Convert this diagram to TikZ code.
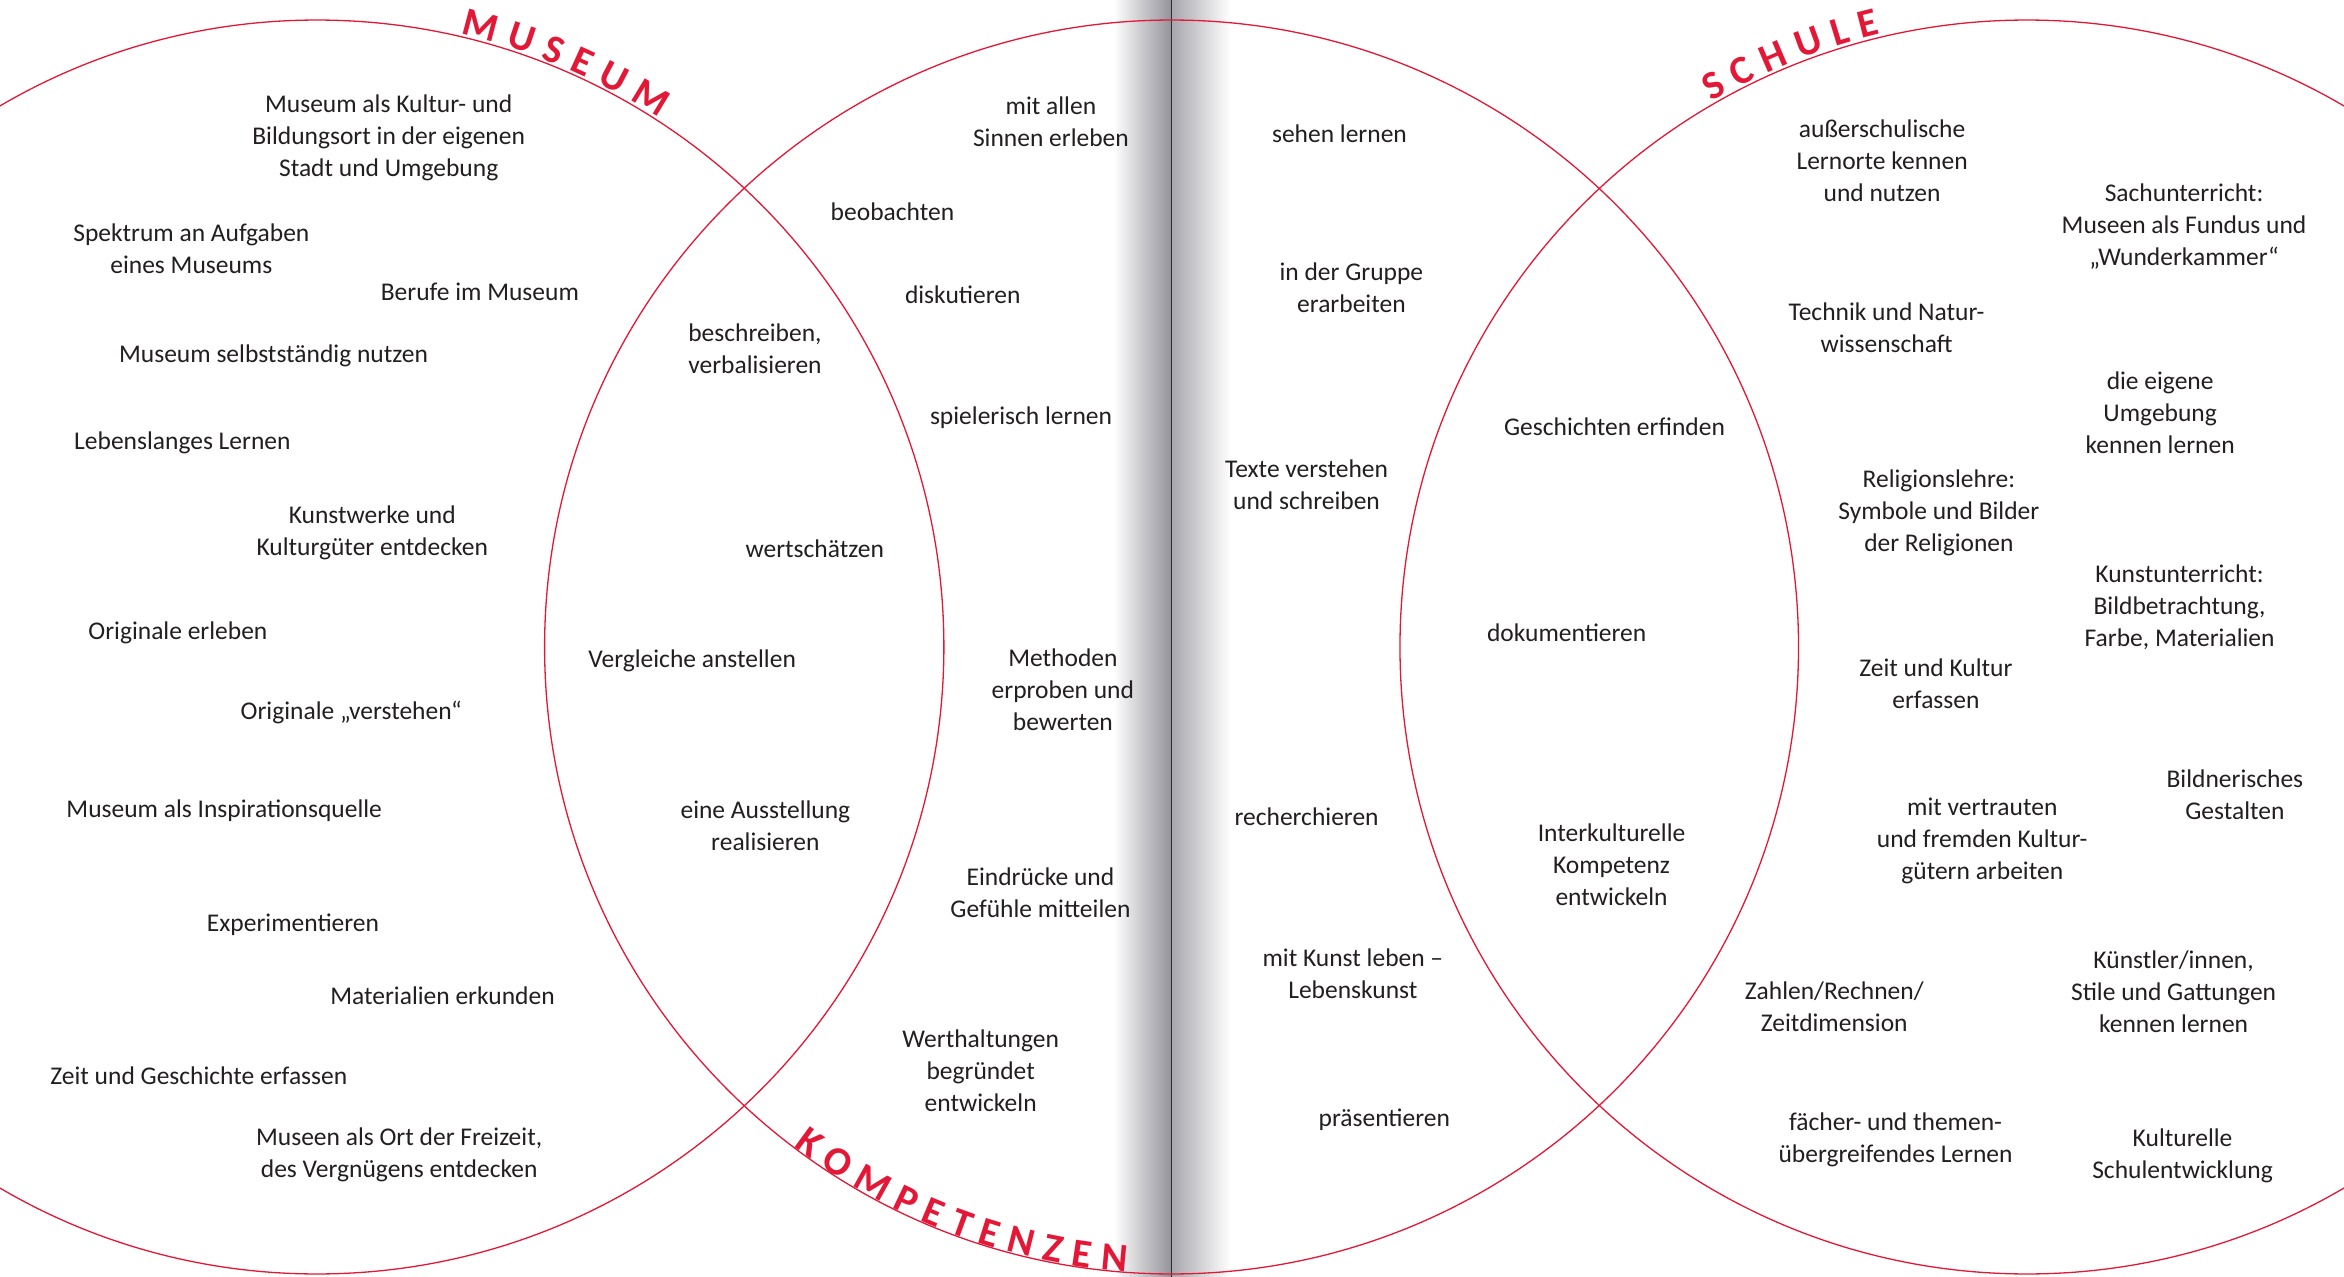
\documentclass[tikz,border=0pt]{standalone}
\usepackage{fontspec}
\setmainfont{Carlito}
\usetikzlibrary{calc}

\definecolor{accent}{RGB}{227,24,55}
\definecolor{ink}{RGB}{35,31,32}
\definecolor{gutL}{RGB}{146,146,153}
\definecolor{gutR}{RGB}{166,166,172}
\definecolor{foldline}{RGB}{45,45,50}

\tikzset{
  ring/.style={draw=accent, line width=1.3pt},
  lbl/.style={text=ink, font=\fontsize{25.5}{32}\selectfont, align=center, inner sep=0pt, yshift=-2pt},
  head/.style={text=accent, font=\fontsize{40}{40}\selectfont\bfseries, inner sep=0pt, anchor=base},
}

\begin{document}
\begin{tikzpicture}[x=1.4949pt, y=-1.4949pt]
\useasboundingbox (0,0) rectangle (1568,854);
\clip (0,0) rectangle (1568,854);
\fill[white] (0,0) rectangle (1568,854);

% gutter shadow of the spread
\shade[left color=white, right color=gutL] (745,0) rectangle (783.7,854);
\shade[left color=gutR, right color=white] (783.7,0) rectangle (823,854);
\draw[foldline, line width=1.6pt] (783.7,0) -- (783.7,854);

% circle centres
\coordinate (cL) at (212.0,432.8);
\coordinate (cM) at (783.7,432.8);
\coordinate (cR) at (1355.9,432.8);

\draw[ring] (cL) circle[radius=419.4];
\draw[ring] (cM) circle[radius=419.4];
\draw[ring] (cR) circle[radius=419.4];

% curved headings (angles measured counter-clockwise on the page)
\foreach \ch/\a in {M/75.2, U/71.4, S/68.3, E/65.6, U/62.5, M/58.7}
  \node[head, rotate={\a-90}] at ($(cL)+({-\a}:421.3)$) {\ch};
\foreach \ch/\a in {S/119.2, C/116.4, H/113.3, U/109.9, L/106.9, E/104.3}
  \node[head, rotate={\a-90}] at ($(cR)+({-\a}:421.5)$) {\ch};
\foreach \ch/\a in {K/233.9, O/237.1, M/240.9, P/244.4, E/247.2, T/250.0, E/252.7, N/255.8, Z/258.9, E/261.6, N/264.7}
  \node[head, rotate={\a+90}] at ($(cM)+({-\a}:419)$) {\ch};

% museum
\node[lbl] (t1) at (260,91) {Museum als Kultur- und\\Bildungsort in der eigenen\\Stadt und Umgebung};
\node[lbl] (t2) at (128,165) {Spektrum an Aufgaben\\eines Museums};
\node[lbl] (t3) at (321,194) {Berufe im Museum};
\node[lbl] (t4) at (183,237) {Museum selbstständig nutzen};
\node[lbl] (t5) at (122,295) {Lebenslanges Lernen};
\node[lbl] (t6) at (249,355) {Kunstwerke und\\Kulturgüter entdecken};
\node[lbl] (t7) at (119,422) {Originale erleben};
\node[lbl] (t8) at (235,475) {Originale „verstehen“};
\node[lbl] (t9) at (150,541) {Museum als Inspirationsquelle};
\node[lbl] (t10) at (196,617) {Experimentieren};
\node[lbl] (t11) at (296,665) {Materialien erkunden};
\node[lbl] (t12) at (133,718) {Zeit und Geschichte erfassen};
\node[lbl] (t13) at (267,771) {Museen als Ort der Freizeit,\\des Vergnügens entdecken};

% museum and competences
\node[lbl] (t14) at (505,232) {beschreiben,\\verbalisieren};
\node[lbl] (t15) at (545,366) {wertschätzen};
\node[lbl] (t16) at (463,441) {Vergleiche anstellen};
\node[lbl] (t17) at (512,551) {eine Ausstellung\\realisieren};

% competences, left page
\node[lbl] (t18) at (703,80) {mit allen\\Sinnen erleben};
\node[lbl] (t19) at (597,140) {beobachten};
\node[lbl] (t20) at (644,196) {diskutieren};
\node[lbl] (t21) at (683,278) {spielerisch lernen};
\node[lbl] (t22) at (711,460) {Methoden\\erproben und\\bewerten};
\node[lbl] (t23) at (696,596) {Eindrücke und\\Gefühle mitteilen};
\node[lbl] (t24) at (656,715) {Werthaltungen\\begründet\\entwickeln};

% competences, right page
\node[lbl] (t25) at (896,88) {sehen lernen};
\node[lbl] (t26) at (904,191) {in der Gruppe\\erarbeiten};
\node[lbl] (t27) at (874,323) {Texte verstehen\\und schreiben};
\node[lbl] (t28) at (874,545) {recherchieren};
\node[lbl] (t29) at (905,650) {mit Kunst leben –\\Lebenskunst};
\node[lbl] (t30) at (926,748) {präsentieren};

% competences and school
\node[lbl] (t31) at (1080,284) {Geschichten erfinden};
\node[lbl] (t32) at (1048,422) {dokumentieren};
\node[lbl] (t33) at (1078,577) {Interkulturelle\\Kompetenz\\entwickeln};

% school
\node[lbl] (t34) at (1259,106) {außerschulische\\Lernorte kennen\\und nutzen};
\node[lbl] (t35) at (1461,150) {Sachunterricht:\\Museen als Fundus und\\„Wunderkammer“};
\node[lbl] (t36) at (1262,218) {Technik und Natur-\\wissenschaft};
\node[lbl] (t37) at (1445,275) {die eigene\\Umgebung\\kennen lernen};
\node[lbl] (t38) at (1297,342) {Religionslehre:\\Symbole und Bilder\\der Religionen};
\node[lbl] (t39) at (1458,405) {Kunstunterricht:\\Bildbetrachtung,\\Farbe, Materialien};
\node[lbl] (t40) at (1295,456) {Zeit und Kultur\\erfassen};
\node[lbl] (t41) at (1326,561) {mit vertrauten\\und fremden Kultur-\\gütern arbeiten};
\node[lbl] (t42) at (1495,530) {Bildnerisches\\Gestalten};
\node[lbl] (t43) at (1227,672) {Zahlen/Rechnen/\\Zeitdimension};
\node[lbl] (t44) at (1454,662) {Künstler/innen,\\Stile und Gattungen\\kennen lernen};
\node[lbl] (t45) at (1268,761) {fächer- und themen-\\übergreifendes Lernen};
\node[lbl] (t46) at (1460,772) {Kulturelle\\Schulentwicklung};
\end{tikzpicture}
\end{document}
